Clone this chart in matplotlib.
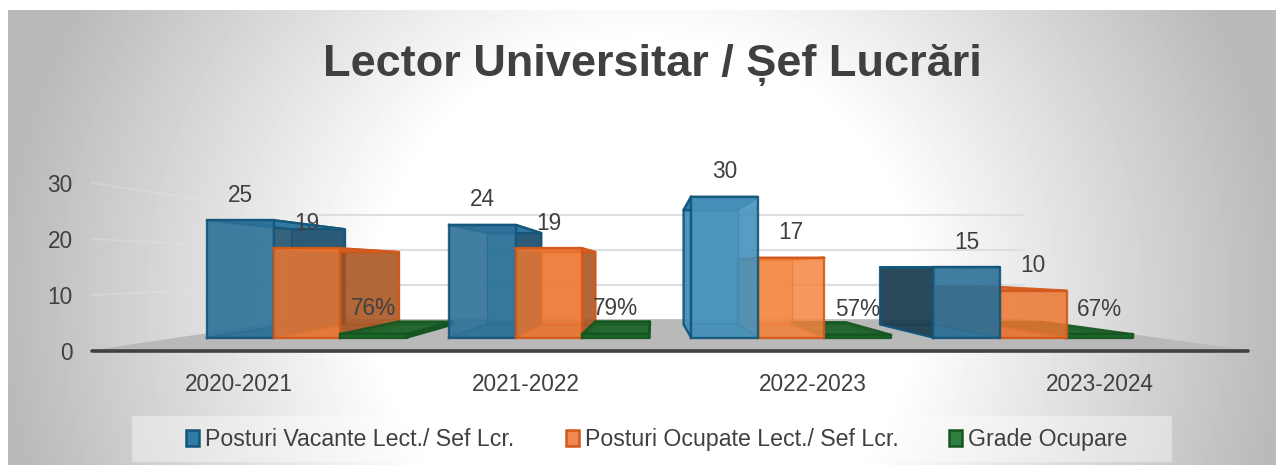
import numpy as np
import matplotlib.pyplot as plt
from matplotlib.patches import Patch, Rectangle

plt.rcParams['font.family'] = ['Liberation Sans', 'DejaVu Sans']

# --- data ---
categories = ['2020-2021', '2021-2022', '2022-2023', '2023-2024']
vacante = [25, 24, 30, 15]
ocupate = [19, 19, 17, 10]
grade = [0.76, 0.79, 0.57, 0.67]
ticks = [0, 10, 20, 30]
title = 'Lector Universitar / Șef Lucrări'
names = ['Posturi Vacante Lect./ Sef Lcr.', 'Posturi Ocupate Lect./ Sef Lcr.', 'Grade Ocupare']

W, H = 1284, 468
TXT = '#404040'

# perspective: everything shrinks towards a vanishing point (in data units)
VX, VV = 1.934, 14.82
S_WALL, S_FRONT, S_BACK = 0.625, 0.8374, 0.68
GROUP_START, BAR_W = 0.10, 0.2756


def proj(x, v, s):
    return VX + s * (x - VX), VV + s * (v - VV)


def face(ax, corners, s_list, color, alpha, edge, z, lw=1.7):
    pts = [proj(x, v, s) for (x, v), s in zip(corners, s_list)]
    xs, ys = zip(*pts)
    ax.fill(xs, ys, facecolor=color, alpha=alpha, edgecolor='none', zorder=z, clip_on=False)
    ax.plot(list(xs) + [xs[0]], list(ys) + [ys[0]], color=edge, lw=lw, alpha=0.9,
            zorder=z, clip_on=False, solid_joinstyle='round')


def draw_bar(ax, x0, x1, v, st, z):
    f, b = S_FRONT, S_BACK
    # bars near the vanishing point catch the light
    near = abs(x0 - VX) < 0.5
    front = st['front_near'] if near else st['front']
    # back, floor, side, top, front
    face(ax, [(x0, 0), (x1, 0), (x1, v), (x0, v)], [b] * 4, st['back'], st['a_back'], st['edge'], z, lw=1)
    face(ax, [(x0, 0), (x1, 0), (x1, 0), (x0, 0)], [f, f, b, b], st['side'], 0.35, st['edge'], z + 0.1, lw=1)
    if x1 < VX:
        face(ax, [(x1, 0), (x1, 0), (x1, v), (x1, v)], [f, b, b, f], st['side'], st['a_side'], st['edge'], z + 0.2)
    if x0 > VX:
        col = front if near else st['lside']
        face(ax, [(x0, 0), (x0, 0), (x0, v), (x0, v)], [f, b, b, f], col, st['a_side'], st['edge'], z + 0.2)
    face(ax, [(x0, v), (x1, v), (x1, v), (x0, v)], [f, f, b, b], st['top'], 0.9, st['edge'], z + 0.3)
    face(ax, [(x0, 0), (x1, 0), (x1, v), (x0, v)], [f] * 4, front, st['a_front'], st['edge'], z + 0.4)


styles = [
    dict(front='#2c7098', front_near='#4592bb', a_front=0.9, back='#2a7099', a_back=0.5, side='#1d4f6c', lside='#1c3a4c',
         a_side=0.88, top='#2f7ba3', edge='#13567a', legend='#2f7ba3'),
    dict(front='#ec7630', front_near='#f5853f', a_front=0.85, back='#e87a38', a_back=0.4, side='#a4521f', lside='#b3581f',
         a_side=0.82, top='#e0682a', edge='#d2581b', legend='#ee8a50'),
    dict(front='#1b6a2a', front_near='#1b6a2a', a_front=0.98, back='#1d6a2c', a_back=0.9, side='#145522', lside='#145522',
         a_side=0.95, top='#1c6229', edge='#14551f', legend='#2f8040'),
]

fig = plt.figure(figsize=(W / 100, H / 100), dpi=100, facecolor='white')

# background gradient panel
bg = fig.add_axes([0, 0, 1, 1], zorder=0)
xx, yy = np.meshgrid(np.linspace(8, 1276, 320), np.linspace(10, 465, 120))
r = np.sqrt(((xx - 645) / 640) ** 2 + ((yy - 300) / 620) ** 2)
shade = np.clip(1.0 - 0.27 * np.clip((r - 0.42) / 0.58, 0, 1), 0, 1)
bg.imshow(shade, extent=(8, 1276, 465, 10), cmap='gray', vmin=0, vmax=1, aspect='auto', interpolation='bilinear')
bg.set_xlim(0, W)
bg.set_ylim(H, 0)
bg.axis('off')
bg.add_patch(Rectangle((132, 416), 1040, 46, facecolor='white', alpha=0.4, edgecolor='none'))

# chart axes: the front edge of the floor, 0-4 categories, 0-30 values
ax = fig.add_axes([92 / W, (H - 351) / H, 1156 / W, 168 / H], zorder=1)
ax.patch.set_alpha(0)
ax.set_xlim(0, len(categories))
ax.set_ylim(ticks[0], ticks[-1])
for sp in ['top', 'left', 'right']:
    ax.spines[sp].set_visible(False)
ax.spines['bottom'].set_color('#404040')
ax.spines['bottom'].set_linewidth(2.6)
ax.spines['bottom'].set_zorder(30)
ax.spines['bottom'].set_capstyle('round')
ax.set_yticks(ticks)
ax.set_xticks(np.arange(len(categories)) * 0.993 + 0.508)
ax.set_xticklabels(categories)
ax.tick_params(axis='both', length=0, labelsize=16.3, labelcolor=TXT)
ax.tick_params(axis='y', pad=14)
ax.tick_params(axis='x', pad=16)

# floor
n = len(categories)
fx, fy = zip(proj(0, 0, 1), proj(n, 0, 1), proj(n, 0, S_WALL), proj(0, 0, S_WALL))
ax.fill(fx, fy, color='#b9b9b9', zorder=1, clip_on=False)

# gridlines: dotted on the left wall, plain on the back wall
for t in ticks[1:]:
    x0, y0 = proj(0, t, 1)
    x1, y1 = proj(0, t, S_WALL)
    x2, y2 = proj(n, t, S_WALL)
    ax.plot([x0, x1], [y0, y1], color='#e6e6e6', lw=1.2, alpha=0.7, ls=(0, (1, 1)), zorder=2, clip_on=False)
    ax.plot([x1, x2], [y1, y2], color='#dcdfe2', lw=1.5, zorder=2, clip_on=False)

# bars, furthest from the vanishing point first
series = [vacante, ocupate, grade]
bars = []
for i in range(n):
    for k, vals in enumerate(series):
        x0 = i + GROUP_START + k * BAR_W
        bars.append((abs(x0 + BAR_W / 2 - VX), x0, vals[i], k))
bars.sort(key=lambda b: -b[0])
for z, (_, x0, v, k) in enumerate(bars):
    draw_bar(ax, x0, x0 + BAR_W, v, styles[k], 3 + z)

# data labels sit above the front centre of each bar
for i in range(n):
    for k, vals in enumerate(series):
        xc = i + GROUP_START + (k + 0.5) * BAR_W
        lab = f'{vals[i]:.0%}' if k == 2 else str(vals[i])
        ax.annotate(lab, proj(xc, vals[i], S_FRONT), xytext=(0, 18), textcoords='offset points',
                    ha='center', va='center', fontsize=16.3, color=TXT, zorder=40, annotation_clip=False)

fig.text(652 / W, 1 - 65 / H, title, ha='center', va='center', fontsize=32.5, fontweight='bold', color=TXT)

handles = [Patch(facecolor=st['legend'], edgecolor=st['edge'], lw=1.8) for st in styles]
fig.legend(handles, names, loc='center', bbox_to_anchor=(657 / W, 1 - 439.5 / H), ncols=3, frameon=False,
           fontsize=16.7, labelcolor=TXT, handlelength=0.56, handleheight=0.7, handletextpad=0.26, columnspacing=2.2)

plt.savefig('out.png', dpi=100)
